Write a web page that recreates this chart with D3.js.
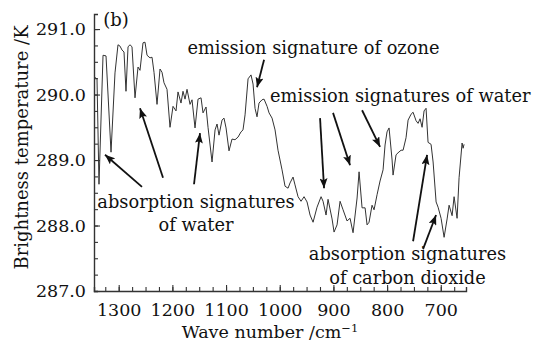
<!DOCTYPE html>
<html>
<head>
<meta charset="utf-8">
<script src="https://cdn.jsdelivr.net/npm/d3@7"></script>
<style>
    body { margin: 0; background: #fff; }
    text { font-family: "DejaVu Serif", "Liberation Serif", serif; fill: #111; }
</style>
</head>
<body>
<svg id="chart"></svg>
<script>
// Trace: wave number (cm-1) and brightness temperature (K)
const waveNumbers = [
    1346, 1340.4, 1336.7, 1329.2, 1323.6, 1314.3, 1306.9, 1301.3, 1297.6, 1293.8,
    1290.1, 1286.4, 1282.6, 1278.9, 1275.2, 1269.6, 1264.0, 1260.3, 1254.7, 1251.0,
    1247.2, 1241.7, 1237.9, 1234.2, 1228.6, 1223.0, 1219.3, 1215.6, 1210.0, 1204.4,
    1198.8, 1193.2, 1189.5, 1183.9, 1180.2, 1176.4, 1172.7, 1167.1, 1163.4, 1157.8,
    1152.2, 1146.6, 1142.9, 1137.3, 1133.6, 1126.1, 1120.5, 1116.8, 1113.1, 1107.5,
    1103.8, 1100.0, 1094.5, 1088.9, 1083.3, 1077.7, 1072.1, 1068.4, 1064.6, 1059.0,
    1053.5, 1049.7, 1046.0, 1042.3, 1038.6, 1033.0, 1029.2, 1023.6, 1019.9, 1014.3,
    1008.7, 1003.2, 995.7, 990.1, 984.5, 980.8, 975.2, 971.5, 965.9, 960.3,
    954.7, 949.1, 943.5, 937.9, 930.5, 923.0, 919.3, 913.7, 910.0, 902.5,
    898.8, 893.2, 887.6, 882.0, 874.6, 869.0, 863.4, 855.9, 852.2, 846.6,
    841.0, 837.3, 833.6, 828.0, 824.3, 818.7, 813.1, 807.5, 803.8, 800.1,
    796.3, 790.7, 788.9, 783.3, 779.6, 774.0, 770.2, 764.7, 760.9, 755.3,
    751.6, 746.0, 742.3, 738.6, 734.8, 731.1, 727.4, 723.7, 718.1, 714.3,
    708.7, 705.0, 699.4, 693.8, 688.2, 684.5, 678.9, 675.2, 669.6, 665.9,
    660.3, 658.4, 656.6
];
const brightness = [
    290.27, 290.24, 288.63, 290.60, 290.59, 289.12, 290.33, 290.76, 290.74, 290.68,
    290.65, 290.05, 290.73, 290.76, 290.73, 289.95, 290.42, 290.37, 290.79, 290.80,
    290.60, 290.56, 290.57, 290.34, 289.85, 290.39, 290.34, 290.18, 290.08, 289.50,
    289.82, 289.75, 290.04, 289.87, 290.05, 289.93, 290.08, 289.85, 289.92, 289.49,
    289.93, 289.95, 289.72, 289.81, 289.50, 288.97, 289.46, 289.55, 289.38, 289.61,
    289.64, 289.49, 289.14, 289.32, 289.31, 289.35, 289.43, 289.46, 289.69, 290.24,
    290.30, 290.16, 289.79, 289.66, 289.87, 289.92, 289.93, 289.82, 289.72, 289.64,
    289.46, 289.15, 288.85, 288.60, 288.57, 288.65, 288.74, 288.62, 288.44, 288.37,
    288.44, 288.36, 288.16, 288.05, 288.28, 288.44, 288.37, 288.16, 288.40, 288.10,
    287.90, 288.01, 288.37, 288.24, 288.07, 288.11, 287.89, 288.42, 288.82, 288.27,
    288.27, 288.01, 288.05, 288.31, 288.24, 288.47, 288.68, 288.85, 289.23, 289.43,
    289.49, 289.00, 288.77, 289.08, 289.11, 289.15, 289.15, 289.34, 289.61, 289.70,
    289.73, 289.60, 289.56, 289.63, 289.50, 289.75, 289.79, 289.27, 289.24, 288.97,
    288.36, 288.28, 288.11, 287.82, 288.10, 288.31, 288.15, 288.44, 288.11, 288.73,
    289.26, 289.18, 289.24
];

// Tick labels
const yTicks = [287, 288, 289, 290, 291];
const yMinorTicks = d3.range(287, 291.01, 0.25);
const xTicks = [1300, 1200, 1100, 1000, 900, 800, 700];
const xMinorTicks = d3.range(675, 1326, 25);

// Annotation texts, anchored in data space
const labels = [
    { lines: ['(b)'], wn: 1329, t: 291.05, anchor: 'start' },
    { lines: ['emission signature of ozone'], wn: 1172, t: 290.62, anchor: 'start' },
    { lines: ['emission signatures of water'], wn: 1018, t: 289.89, anchor: 'start' },
    { lines: ['absorption signatures', 'of water'], wn: 1156, t: 288.27, anchor: 'middle' },
    { lines: ['absorption signatures', 'of carbon dioxide'], wn: 762, t: 287.47, anchor: 'middle' }
];

// Arrows: tail -> head, in data space
const arrows = [
    [[1256.6, 288.59], [1325.5, 289.08]],
    [[1217.4, 288.73], [1260.3, 289.79]],
    [[1159.7, 288.63], [1148.5, 289.41]],
    [[1029.2, 290.53], [1042.3, 290.11]],
    [[924.9, 289.64], [917.4, 288.57]],
    [[900.7, 289.72], [869.0, 288.92]],
    [[846.6, 289.76], [813.1, 289.20]],
    [[751.6, 287.76], [725.5, 289.08]],
    [[733.0, 287.64], [708.8, 288.16]]
];

// Size and margins
const margin = { top: 14, right: 79, bottom: 52, left: 94 };
const width = 545 - margin.left - margin.right;
const height = 343 - margin.top - margin.bottom;

const svg = d3.select('#chart')
    .attr('width', width + margin.left + margin.right)
    .attr('height', height + margin.top + margin.bottom)
    .append('g')
    .attr('transform', `translate(${margin.left},${margin.top})`);

// Scales (x runs from high to low wave number)
const xScale = d3.scaleLinear()
    .domain([1346, 653])
    .range([0, width]);

const yScale = d3.scaleLinear()
    .domain([287, 291.23])
    .range([height, 0]);

// Minor ticks first
svg.append('g')
    .attr('class', 'x-minor')
    .attr('transform', `translate(0,${height})`)
    .call(d3.axisBottom(xScale).tickValues(xMinorTicks).tickSize(-4).tickFormat(''))
    .call(g => g.select('.domain').remove());

svg.append('g')
    .attr('class', 'y-minor')
    .call(d3.axisLeft(yScale).tickValues(yMinorTicks).tickSize(-4).tickFormat(''))
    .call(g => g.select('.domain').remove());

// Main axes, ticks point inward
const xAxis = svg.append('g')
    .attr('class', 'axis-x')
    .attr('transform', `translate(0,${height})`)
    .call(d3.axisBottom(xScale)
        .tickValues(xTicks)
        .tickSizeInner(-6)
        .tickSizeOuter(-4)
        .tickPadding(13)
        .tickFormat(d3.format('d')));

const yAxis = svg.append('g')
    .attr('class', 'axis-y')
    .call(d3.axisLeft(yScale)
        .tickValues(yTicks)
        .tickSizeInner(-6)
        .tickSizeOuter(-4)
        .tickPadding(8)
        .tickFormat(d3.format('.1f')));

svg.selectAll('.domain').attr('stroke', '#333').attr('stroke-width', 1.4);
svg.selectAll('.tick line').attr('stroke', '#333').attr('stroke-width', 1.1);
svg.selectAll('.tick text')
    .attr('fill', '#111')
    .style('font-family', '"DejaVu Serif", serif')
    .style('font-size', '17.5px');

// Axis titles
svg.append('text')
    .attr('x', width / 2 - 10)
    .attr('y', height + 47)
    .attr('text-anchor', 'middle')
    .style('font-size', '17.5px')
    .html('Wave number /cm<tspan dy="-6" font-size="11.5px">−1</tspan>');

svg.append('text')
    .attr('transform', `translate(${-66},${height / 2 - 5}) rotate(-90)`)
    .attr('text-anchor', 'middle')
    .style('font-size', '18px')
    .text('Brightness temperature /K');

// The trace
const line = d3.line()
    .x((d, i) => xScale(waveNumbers[i]))
    .y(d => yScale(d));

svg.append('path')
    .datum(brightness)
    .attr('fill', 'none')
    .attr('stroke', '#333')
    .attr('stroke-width', 1)
    .attr('stroke-linejoin', 'round')
    .attr('d', line);

// Arrowhead marker
svg.append('defs').append('marker')
    .attr('id', 'head')
    .attr('viewBox', '0 0 10 8')
    .attr('refX', 10)
    .attr('refY', 4)
    .attr('markerWidth', 10)
    .attr('markerHeight', 8)
    .attr('markerUnits', 'userSpaceOnUse')
    .attr('orient', 'auto')
    .append('path')
    .attr('d', 'M0,0L10,4L0,8L2,4Z')
    .attr('fill', '#111');

svg.selectAll('.arrow')
    .data(arrows)
    .enter()
    .append('line')
    .attr('class', 'arrow')
    .attr('x1', d => xScale(d[0][0]))
    .attr('y1', d => yScale(d[0][1]))
    .attr('x2', d => xScale(d[1][0]))
    .attr('y2', d => yScale(d[1][1]))
    .attr('stroke', '#111')
    .attr('stroke-width', 1.8)
    .attr('marker-end', 'url(#head)');

// Annotation labels
const notes = svg.selectAll('.note')
    .data(labels)
    .enter()
    .append('text')
    .attr('class', 'note')
    .attr('text-anchor', d => d.anchor)
    .style('font-size', d => d.lines[0] === '(b)' ? '18px' : '17.8px');

notes.selectAll('tspan')
    .data(d => d.lines.map(l => ({ l, d })))
    .enter()
    .append('tspan')
    .attr('x', o => xScale(o.d.wn))
    .attr('y', (o, i) => yScale(o.d.t) + i * 23.5)
    .text(o => o.l);
</script>
</body>
</html>
